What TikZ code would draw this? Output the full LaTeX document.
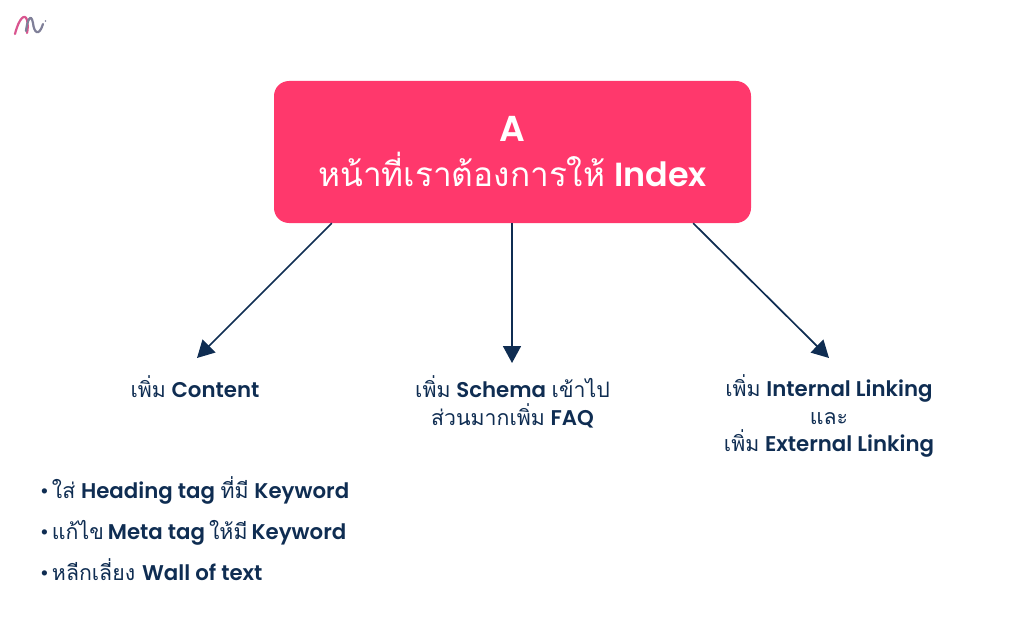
\documentclass[tikz,border=0pt]{standalone}
\usepackage{fontspec}
\setmainfont{Poppins}[BoldFont={Poppins SemiBold}]
\newfontfamily\thaifont[Script=Thai]{Loma}
\usepackage{tikz}
\usetikzlibrary{calc,positioning,arrows.meta}
\definecolor{navy}{HTML}{0F2D52}
\definecolor{rosered}{HTML}{FF386C}
\definecolor{logopink}{HTML}{D9558F}
\definecolor{logogray}{HTML}{7F7F98}
\newcommand{\tx}[1]{{\thaifont #1}}
\newcommand{\lt}[1]{\textbf{#1}}
\tikzset{headbox/.style={draw=none,fill=rosered,rounded corners=15pt,minimum width=477pt,minimum height=142pt,inner sep=0pt,text=white,align=center,font=\fontsize{33.4}{45}\selectfont},
label/.style={text=navy,align=center,inner sep=0pt,font=\fontsize{21.3}{27.5}\selectfont},
bullet/.style={text=navy,anchor=base west,inner sep=0pt,font=\fontsize{21.3}{27.5}\selectfont}}
\tikzstyle{arrow} = [line width=1.7pt,draw=navy,-{Triangle[length=17pt,width=18pt]}]
\begin{document}
\begin{tikzpicture}[x=1pt,y=-1pt]
	\useasboundingbox (0,0) rectangle (1024,631);
	% logo
	\draw[line width=2.2pt,line cap=round,draw=logopink] (15,34) .. controls (19,18) and (25,13) .. (27,20) .. controls (28,24) and (28,29) .. (27,33);
	\draw[line width=2.2pt,line cap=round,draw=logogray] (26,31) .. controls (27,21) and (31,12) .. (33,23) .. controls (34,33) and (39,37) .. (43,24);
	\fill[logogray] (45.5,21) circle (0.9pt);

	\node[headbox] (box) at (512.5,152) {{\fontsize{36}{45}\selectfont\lt{A}}\\ \tx{หน้าที่เราต้องการให้} \lt{Index}};

	\coordinate (tipA) at (197,358);
	\coordinate (tipB) at (512,363);
	\coordinate (tipC) at (829,358);
	\coordinate (startA) at ($(box.south west)+(58,0)$);
	\coordinate (startB) at (box.south -| tipB);
	\coordinate (startC) at ($(box.south east)+(-58,0)$);
	\draw[arrow] (startA) -- (tipA);
	\draw[arrow] (startB) -- (tipB);
	\draw[arrow] (startC) -- (tipC);

	\node[label] (content) at (195,387) {\tx{เพิ่ม} \lt{Content}};
	\node[label] (schema) at (512.5,402) {\tx{เพิ่ม} \lt{Schema} \tx{เข้าไป}\\ \tx{ส่วนมากเพิ่ม} \lt{FAQ}};
	\node[label] (linking) at (829,416) {\tx{เพิ่ม} \lt{Internal Linking}\\ \tx{และ}\\ \tx{เพิ่ม} \lt{External Linking}};

	\node[bullet] (headtag) at (40,498) {•\hspace{3pt}\tx{ใส่} \lt{Heading tag} \tx{ที่มี} \lt{Keyword}};
	\node[bullet,below=41.3pt of headtag.base west,anchor=base west] (metatag) {•\hspace{3pt}\tx{แก้ไข}\hspace{4pt}\lt{Meta tag}\hspace{4pt}\tx{ให้มี}\hspace{4pt}\lt{Keyword}};
	\node[bullet,below=41.3pt of metatag.base west,anchor=base west] (walltext) {•\hspace{3pt}\tx{หลีกเลี่ยง}\hspace{7pt}\lt{Wall of text}};
\end{tikzpicture}
\end{document}
